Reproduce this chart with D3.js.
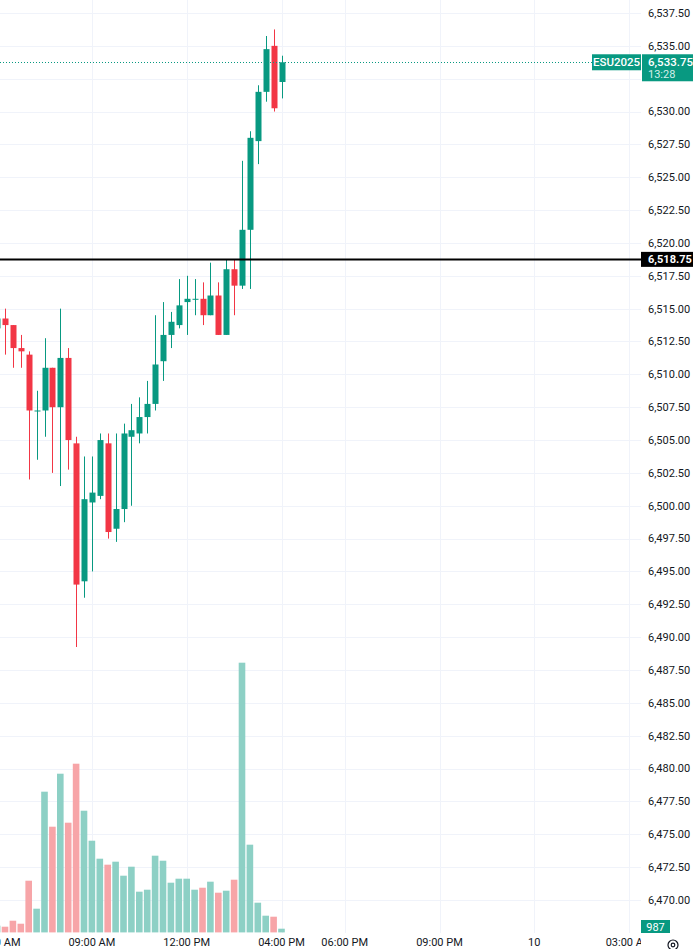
<!DOCTYPE html>
<html>
<head>
<meta charset="utf-8">
<script src="https://cdn.jsdelivr.net/npm/d3@7"></script>
<style>
  html, body { margin: 0; padding: 0; background: #ffffff; }
  svg { display: block; }
  text { font-family: Roboto, "Noto Sans", sans-serif; }
</style>
</head>
<body>
<svg id="chart" width="693" height="949"></svg>
<script>
// ---- data (15-minute candles, index = bar position) ----
const opens  = [6513.5, 6514.25, 6513.75, 6512, 6511.5, 6507.25, 6507.25, 6510.5, 6507.5, 6511.25,
                6504.75, 6494.25, 6500.25, 6500.75, 6504.75, 6498.25, 6499.75, 6505.25, 6505.5, 6506.75,
                6507.75, 6511, 6513, 6513.75, 6515.5, 6515.75, 6515.75, 6514.5, 6516, 6513,
                6518, 6516.75, 6521, 6527.75, 6531.5, 6535, 6532.25];
const highs  = [6514.5, 6515, 6513.75, 6513, 6511.75, 6508.75, 6512.75, 6510.5, 6515, 6512,
                6505.25, 6503.75, 6503.75, 6505.5, 6505.5, 6505.5, 6506.25, 6507.75, 6508.25, 6509.5,
                6514.5, 6515.5, 6514.75, 6517.25, 6517.5, 6517.25, 6517, 6518.5, 6517, 6518.75,
                6518.75, 6526.25, 6528.5, 6532, 6535.75, 6536.25, 6534.25];
const lows   = [6513.25, 6511.5, 6510.5, 6510.5, 6502, 6503.5, 6505.25, 6502.5, 6501.5, 6502.75,
                6489.25, 6493, 6495, 6500.5, 6497.5, 6497.25, 6498.75, 6500, 6504.75, 6505.5,
                6507.25, 6509.5, 6512, 6513.5, 6513, 6514.5, 6513.75, 6514.5, 6513, 6513,
                6514.5, 6516.5, 6516.5, 6526, 6530.75, 6530, 6531];
const closes = [6514.25, 6513.75, 6512, 6511.75, 6507.25, 6507.25, 6510.5, 6507.5, 6511.25, 6505,
                6494, 6500.5, 6501, 6505, 6498, 6499.75, 6505.5, 6505.75, 6506.75, 6507.75,
                6510.75, 6513, 6514, 6515.25, 6515.75, 6515.75, 6514.5, 6516, 6513, 6518,
                6516.75, 6521, 6528, 6531.5, 6534.75, 6530.25, 6533.75];
const volumes = [1800, 1520, 3120, 2320, 13800, 6330, 37570, 28220, 42370, 29290,
                 45040, 32490, 24480, 19680, 18080, 18880, 15140, 17540, 10870, 11400,
                 20480, 19140, 13270, 14340, 14340, 11400, 11930, 13540, 10600, 11130,
                 14070, 72010, 23420, 7930, 4460, 4190, 987];

const priceTicks = d3.range(6470, 6537.5 + 0.001, 2.5);
const timeTickIdx = [0, 12, 24, 36, 44, 56, 68, 80];
const timeTickLabels = ["06:00 AM", "09:00 AM", "12:00 PM", "04:00 PM", "06:00 PM", "09:00 PM", "10", "03:00 AM"];

const symbol = "ESU2025";
const lastPrice = 6533.75;
const countdown = "13:28";
const hLinePrice = 6518.75;

// ---- layout ----
const W = 693, H = 949;
const plotRight = 641;
const plotBottom = 933;
const green = "#089981", red = "#F23645";
const greenVol = "#8dd0c5", redVol = "#f7a5a8";
const gridColor = "#f0f3fa";
const textColor = "#131722";

const svg = d3.select("#chart");

const x = d3.scaleLinear().domain([0, 80]).range([-2.9, 629.1]);
const y = d3.scaleLinear().domain([6467.5, 6538.5]).range([932.8, -0.14]);
const vy = d3.scaleLinear().domain([0, 72010]).range([932.4, 662.7]);

const fmt = d3.format(",.2f");

const plot = svg.append("g");
plot.append("defs").append("clipPath").attr("id", "plotclip")
  .append("rect").attr("x", 0).attr("y", 0).attr("width", plotRight).attr("height", plotBottom);

const gp = plot.append("g").attr("clip-path", "url(#plotclip)");

// grid
gp.selectAll("line.hg").data(priceTicks).join("line")
  .attr("x1", 0).attr("x2", plotRight)
  .attr("y1", d => Math.round(y(d)) + 0.5).attr("y2", d => Math.round(y(d)) + 0.5)
  .attr("stroke", gridColor).attr("stroke-width", 1);
gp.selectAll("line.vg").data(timeTickIdx).join("line")
  .attr("y1", 0).attr("y2", plotBottom)
  .attr("x1", d => Math.round(x(d)) + 0.5).attr("x2", d => Math.round(x(d)) + 0.5)
  .attr("stroke", gridColor).attr("stroke-width", 1);

const idx = d3.range(opens.length);
const isUp = i => closes[i] >= opens[i];

// volume
gp.selectAll("rect.vol").data(idx).join("rect")
  .attr("x", i => x(i) - 3.3).attr("width", 6.6)
  .attr("y", i => vy(volumes[i])).attr("height", i => vy(0) - vy(volumes[i]))
  .attr("fill", i => isUp(i) ? greenVol : redVol);

// wicks
gp.selectAll("line.wick").data(idx).join("line")
  .attr("x1", i => Math.round(x(i)) + 0.5).attr("x2", i => Math.round(x(i)) + 0.5)
  .attr("y1", i => y(highs[i])).attr("y2", i => y(lows[i]))
  .attr("stroke", i => isUp(i) ? green : red).attr("stroke-width", 1);

// bodies
gp.selectAll("rect.body").data(idx).join("rect")
  .attr("x", i => Math.round(x(i)) - 2.5).attr("width", 6)
  .attr("y", i => y(Math.max(opens[i], closes[i])))
  .attr("height", i => Math.max(1, Math.abs(y(opens[i]) - y(closes[i]))))
  .attr("fill", i => isUp(i) ? green : red);

// last price dotted line
gp.append("line")
  .attr("x1", 0).attr("x2", 592)
  .attr("y1", Math.round(y(lastPrice)) + 0.5).attr("y2", Math.round(y(lastPrice)) + 0.5)
  .attr("stroke", green).attr("stroke-width", 1).attr("stroke-dasharray", "1,2");

// horizontal black line
gp.append("line")
  .attr("x1", 0).attr("x2", plotRight)
  .attr("y1", y(hLinePrice)).attr("y2", y(hLinePrice))
  .attr("stroke", "#000000").attr("stroke-width", 2);

// price axis labels (skip those hidden behind the last-price box)
const ly = y(lastPrice);
const boxTop = ly - 8, boxBottom = ly + 19;
const visibleTicks = priceTicks.filter(d => !(y(d) + 6 > boxTop && y(d) - 6 < boxBottom));
const axisG = svg.append("g");
axisG.selectAll("text.pt").data(visibleTicks).join("text")
  .attr("x", 648).attr("y", d => y(d)).attr("dy", "0.35em")
  .attr("font-size", 11).attr("fill", textColor)
  .text(d => fmt(d));

// horizontal line label
const hy = y(hLinePrice);
axisG.append("rect").attr("x", 641).attr("y", hy - 7.5).attr("width", 52).attr("height", 15)
  .attr("fill", "#000000");
axisG.append("text").attr("x", 648).attr("y", hy).attr("dy", "0.35em")
  .attr("font-size", 11).attr("font-weight", "bold").attr("fill", "#ffffff").text(fmt(hLinePrice));

// symbol & last price label
svg.append("rect").attr("x", 592).attr("y", boxTop).attr("width", 49).attr("height", 16)
  .attr("fill", green);
svg.append("text").attr("x", 616.5).attr("y", ly).attr("dy", "0.35em").attr("text-anchor", "middle")
  .attr("font-size", 11.5).attr("font-weight", 500).attr("fill", "#ffffff").text(symbol);
axisG.append("rect").attr("x", 642).attr("y", boxTop).attr("width", 51).attr("height", boxBottom - boxTop)
  .attr("fill", green);
axisG.append("text").attr("x", 648).attr("y", ly).attr("dy", "0.35em")
  .attr("font-size", 11.5).attr("font-weight", 500).attr("fill", "#ffffff").text(fmt(lastPrice));
axisG.append("text").attr("x", 648).attr("y", ly + 12).attr("dy", "0.35em")
  .attr("font-size", 11).attr("fill", "#d6efea").text(countdown);

// volume label
const lastVol = volumes[volumes.length - 1];
axisG.append("rect").attr("x", 641).attr("y", 920).attr("width", 29).attr("height", 13)
  .attr("fill", green);
axisG.append("text").attr("x", 655.5).attr("y", 927).attr("dy", "0.35em").attr("text-anchor", "middle")
  .attr("font-size", 11).attr("fill", "#ffffff").text(d3.format(",")(lastVol));

// time axis
const tg = svg.append("g");
tg.append("rect").attr("x", 0).attr("y", plotBottom).attr("width", plotRight).attr("height", H - plotBottom)
  .attr("fill", "#ffffff");
tg.selectAll("text.tt").data(timeTickIdx).join("text")
  .attr("x", d => x(d)).attr("y", 942.5).attr("dy", "0.35em").attr("text-anchor", "middle")
  .attr("font-size", 11).attr("fill", textColor)
  .text((d, i) => timeTickLabels[i]);
// time labels end at the price axis
tg.append("rect").attr("x", 641).attr("y", plotBottom).attr("width", W - 641).attr("height", H - plotBottom)
  .attr("fill", "#ffffff");

// settings icon
const ic = svg.append("g").attr("transform", "translate(673,945)");
ic.append("circle").attr("r", 5).attr("fill", "none").attr("stroke", textColor).attr("stroke-width", 1.2);
ic.append("circle").attr("r", 1.8).attr("fill", "none").attr("stroke", textColor).attr("stroke-width", 1.2);
</script>
</body>
</html>
